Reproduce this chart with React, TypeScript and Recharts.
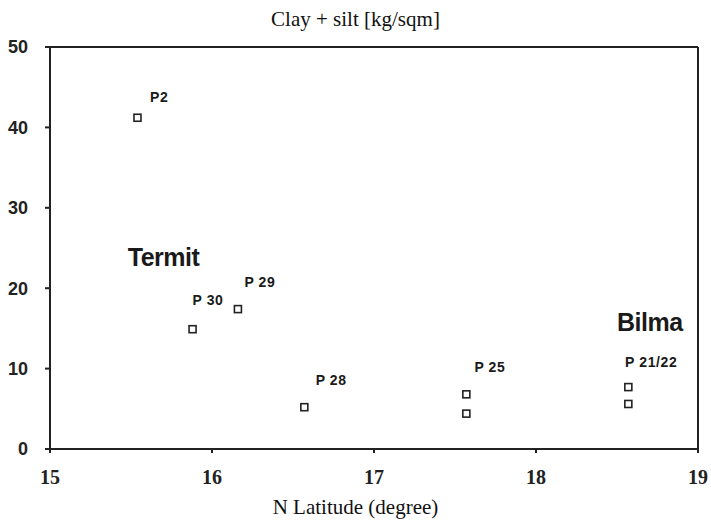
import { ScatterChart, Scatter, XAxis, YAxis, ReferenceLine } from "recharts";

const latitudes = [15.54, 15.88, 16.16, 16.57, 17.57, 17.57, 18.57, 18.57];
const claySilt = [41.2, 14.9, 17.4, 5.2, 6.8, 4.4, 7.7, 5.6];

const labelTexts = ["P2", "P 30", "P 29", "P 28", "P 25", "P 21/22", "Termit", "Bilma"];
const labelLat = [15.617, 15.88, 16.2, 16.64, 17.62, 18.55, 15.48, 18.5];
const labelVal = [43.8, 18.5, 20.8, 8.6, 10.2, 10.8, 23.8, 15.8];
const labelBig = [false, false, false, false, false, false, true, true];

const xTicks = [15, 16, 17, 18, 19];
const yTicks = [0, 10, 20, 30, 40, 50];

const points = latitudes.map((x, i) => ({ x, y: claySilt[i] }));
const labels = labelTexts.map((text, i) => ({
  x: labelLat[i],
  y: labelVal[i],
  text,
  big: labelBig[i],
}));

const SquareMark = (props: any) => {
  const { cx, cy } = props;
  return (
    <rect
      x={cx - 3.5}
      y={cy - 3.5}
      width={7}
      height={7}
      fill="#fff"
      stroke="#222"
      strokeWidth={1.6}
    />
  );
};

const TextMark = (props: any) => {
  const { cx, cy, payload } = props;
  return (
    <text
      x={cx}
      y={cy}
      dy="0.35em"
      fontFamily="Liberation Sans, Arial, sans-serif"
      fontWeight="bold"
      fontSize={payload.big ? 25 : 14}
      letterSpacing={payload.big ? -0.5 : 0.6}
      fill="#1a1a1a"
    >
      {payload.text}
    </text>
  );
};

export default function App() {
  return (
    <div style={{ position: "relative", width: 711, height: 530, background: "#fff" }}>
      <style>{`body{margin:0}`}</style>
      <div
        style={{
          position: "absolute",
          top: 7,
          width: 711,
          textAlign: "center",
          fontFamily: "Liberation Serif, serif",
          fontSize: 21,
          color: "#111",
        }}
      >
        Clay + silt [kg/sqm]
      </div>
      <div
        style={{
          position: "absolute",
          top: 495,
          width: 711,
          textAlign: "center",
          fontFamily: "Liberation Serif, serif",
          fontSize: 21,
          color: "#111",
        }}
      >
        N Latitude (degree)
      </div>
      <ScatterChart
        width={711}
        height={530}
        margin={{ top: 47, right: 13, left: 10, bottom: 36 }}
      >
        <XAxis
          type="number"
          dataKey="x"
          domain={[15, 19]}
          ticks={xTicks}
          allowDataOverflow
          height={45}
          stroke="#222"
          strokeWidth={2}
          tickSize={4}
          tickMargin={17}
          tick={{
            fill: "#222",
            fontSize: 20,
            fontWeight: "bold",
            fontFamily: "Liberation Serif, serif",
          }}
        />
        <YAxis
          type="number"
          dataKey="y"
          domain={[0, 50]}
          ticks={yTicks}
          allowDataOverflow
          width={40}
          stroke="#222"
          strokeWidth={2}
          tickSize={5}
          tickMargin={17}
          tick={{
            fill: "#222",
            fontSize: 18,
            fontWeight: "bold",
            fontFamily: "Liberation Sans, Arial, sans-serif",
          }}
        />
        <ReferenceLine y={50} stroke="#222" strokeWidth={2} />
        <ReferenceLine x={19} stroke="#222" strokeWidth={2} />
        <Scatter data={points} shape={SquareMark} isAnimationActive={false} />
        <Scatter data={labels} shape={TextMark} isAnimationActive={false} />
      </ScatterChart>
    </div>
  );
}
